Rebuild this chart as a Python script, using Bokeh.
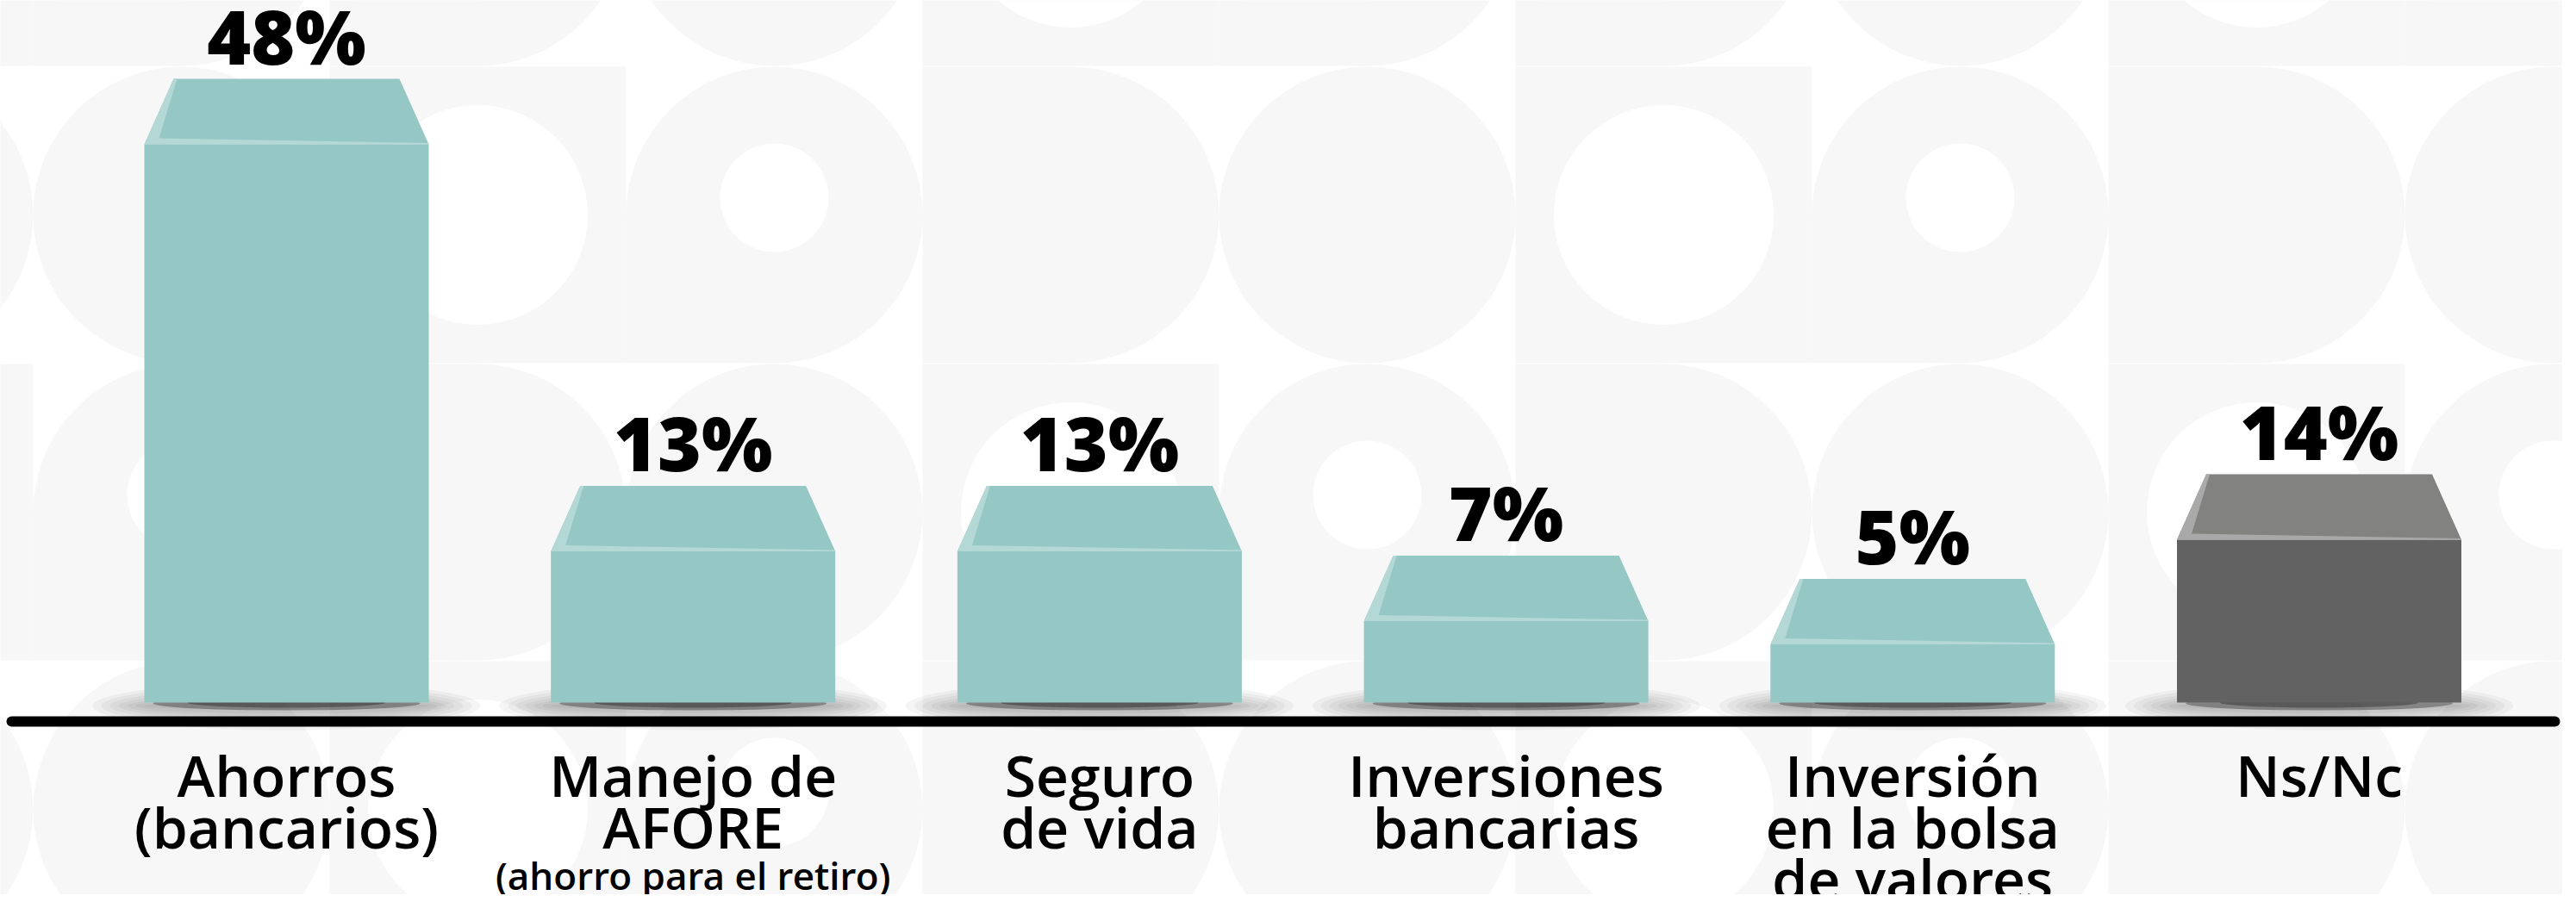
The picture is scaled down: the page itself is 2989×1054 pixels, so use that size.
from bokeh.plotting import figure
from bokeh.models import Range1d
from bokeh.core.properties import value
from bokeh.embed import file_html
from bokeh.resources import INLINE

# ---------------- data ----------------
categories = ["Ahorros\n(bancarios)", "Manejo de\nAFORE", "Seguro\nde vida",
              "Inversiones\nbancarias", "Inversión\nen la bolsa\nde valores", "Ns/Nc"]
notes = ["", "(ahorro para el retiro)", "", "", "", ""]
values = [48, 13, 13, 7, 5, 14]
value_labels = ["48%", "13%", "13%", "7%", "5%", "14%"]

# ---------------- layout / style ----------------
W, H = 2973, 1038
STEP_PX = 471.7      # px between category centres
FIRST_PX = 332       # first category centre from the left edge of the frame
UNIT_PX = 13.5       # px per percentage point
ZERO_PX = 223        # baseline height above the bottom of the frame

x_start = -FIRST_PX / STEP_PX
x_end = x_start + W / STEP_PX
y_start = -ZERO_PX / UNIT_PX
y_end = y_start + H / UNIT_PX


def dx(px):
    return px / STEP_PX


def dy(px):
    return px / UNIT_PX


def X(px):  # frame px from left -> data x
    return x_start + px / STEP_PX


def Y(px):  # frame px from top -> data y
    return y_end - px / UNIT_PX


TEAL, TEAL_TOP, TEAL_HI = "#95c7c5", "#95c7c5", "#b4d8d6"
GREY, GREY_TOP, GREY_HI = "#626262", "#828281", "#a9a9a9"
BG_SHAPE = "#f7f7f7"
VAL_FONT = value("Open Sans ExtraBold")
CAT_FONT = value("Open Sans SemiBold")

BAR_PX = 330
INSET_PX = 34
DEPTH_PX = 76
LABEL_GAP_PX = 22
VAL_SIZE = 87
CAT_SIZE = 66
NOTE_SIZE = 44
BASE_FIX = 0.33      # baseline correction, fraction of the font size

p = figure(width=W, height=H, x_range=Range1d(x_start, x_end), y_range=Range1d(y_start, y_end),
           output_backend="svg", toolbar_location=None, min_border=0)
p.xaxis.visible = False
p.yaxis.visible = False
p.xgrid.visible = False
p.ygrid.visible = False
p.outline_line_color = None
p.background_fill_color = "white"
p.border_fill_color = "white"

# ---------------- decorative background pattern ----------------
S = 344
circ_x, circ_y, circ_d, circ_c = [], [], [], []
q_l, q_r, q_t, q_b = [], [], [], []
for i in range(-1, 9):
    for j in range(-1, 3):
        L = 46 + i * S - 8
        T = 85 + j * 345 - 8
        cx, cy = L + S / 2, T + S / 2
        kind = (i + 2 * j) % 4
        if kind == 0:
            circ_x.append(X(cx)); circ_y.append(Y(cy)); circ_d.append(S); circ_c.append(BG_SHAPE)
        elif kind == 1:
            q_l.append(X(L)); q_r.append(X(L + S)); q_t.append(Y(T)); q_b.append(Y(T + S))
            circ_x.append(X(cx)); circ_y.append(Y(cy)); circ_d.append(255); circ_c.append("white")
        elif kind == 2:
            q_l.append(X(L)); q_r.append(X(cx)); q_t.append(Y(cy)); q_b.append(Y(T + S))
            circ_x.append(X(cx)); circ_y.append(Y(cy)); circ_d.append(S); circ_c.append(BG_SHAPE)
            circ_x.append(X(cx)); circ_y.append(Y(cy - 20)); circ_d.append(126); circ_c.append("white")
        else:
            q_l.append(X(L)); q_r.append(X(cx)); q_t.append(Y(T)); q_b.append(Y(T + S))
            circ_x.append(X(cx)); circ_y.append(Y(cy)); circ_d.append(S); circ_c.append(BG_SHAPE)

p.quad(left=q_l, right=q_r, top=q_t, bottom=q_b, fill_color=BG_SHAPE, line_color=None)
p.ellipse(x=circ_x, y=circ_y, width=[dx(d) for d in circ_d], height=[dy(d) for d in circ_d],
          fill_color=circ_c, line_color=None)

# ---------------- bars ----------------
xs = list(range(len(categories)))
is_other = [c == "Ns/Nc" for c in categories]
front = [GREY if o else TEAL for o in is_other]
top_c = [GREY_TOP if o else TEAL_TOP for o in is_other]
hi_c = [GREY_HI if o else TEAL_HI for o in is_other]
hw = dx(BAR_PX) / 2

# soft shadows
for k in range(7):
    t = k / 6
    p.ellipse(x=xs, y=[dy(-4)] * len(xs), width=dx(BAR_PX + 120 * (1 - t)),
              height=dy(46 * (1 - t) + 10), fill_color="black", fill_alpha=0.04, line_color=None)
p.ellipse(x=xs, y=[dy(-1)] * len(xs), width=dx(BAR_PX - 20), height=dy(16),
          fill_color="black", fill_alpha=0.3, line_color=None)
p.ellipse(x=xs, y=[dy(0)] * len(xs), width=dx(BAR_PX - 100), height=dy(12),
          fill_color="black", fill_alpha=0.3, line_color=None)

# front faces
p.vbar(x=xs, top=values, bottom=0, width=dx(BAR_PX), fill_color=front, line_color=None)

# top (perspective) faces
tx, ty, hx, hy = [], [], [], []
D = dy(DEPTH_PX)
for x, v in zip(xs, values):
    l, r = x - hw, x + hw
    tx.append([l, r, r - dx(INSET_PX), l + dx(INSET_PX)])
    ty.append([v, v, v + D, v + D])
    hx.append([l, l + dx(INSET_PX), l + dx(INSET_PX + 4), l + dx(17), r, r])
    hy.append([v, v + D, v + D, v + dy(7), v + dy(1.5), v])
p.patches(xs=tx, ys=ty, fill_color=top_c, line_color=None)
p.patches(xs=hx, ys=hy, fill_color=hi_c, line_color=None)

# value labels
p.text(x=xs, y=[v + dy(DEPTH_PX + LABEL_GAP_PX + BASE_FIX * VAL_SIZE) for v in values],
       text=value_labels, text_font=VAL_FONT, text_font_style="bold", text_font_size=f"{VAL_SIZE}px",
       text_align="center", text_baseline="alphabetic", text_color="black")

# baseline
p.segment(x0=[X(13)], y0=[dy(-22)], x1=[X(2964)], y1=[dy(-22)],
          line_color="black", line_width=12, line_cap="round")

# category labels
lx, ly, lt = [], [], []
nx, ny, nt = [], [], []
for x, cat, note in zip(xs, categories, notes):
    lines = cat.split("\n")
    for k, line in enumerate(lines):
        lx.append(x); ly.append(-dy(105 + 60 * k - BASE_FIX * CAT_SIZE)); lt.append(line)
    if note:
        nx.append(x); ny.append(-dy(105 + 60 * (len(lines) - 1) + 50 - BASE_FIX * NOTE_SIZE))
        nt.append(note)
p.text(x=lx, y=ly, text=lt, text_font=CAT_FONT, text_font_style="normal", text_font_size=f"{CAT_SIZE}px",
       text_align="center", text_baseline="alphabetic", text_color="black")
p.text(x=nx, y=ny, text=nt, text_font=CAT_FONT, text_font_style="normal", text_font_size=f"{NOTE_SIZE}px",
       text_align="center", text_baseline="alphabetic", text_color="black")

open("out.html", "w").write(file_html(p, INLINE))
